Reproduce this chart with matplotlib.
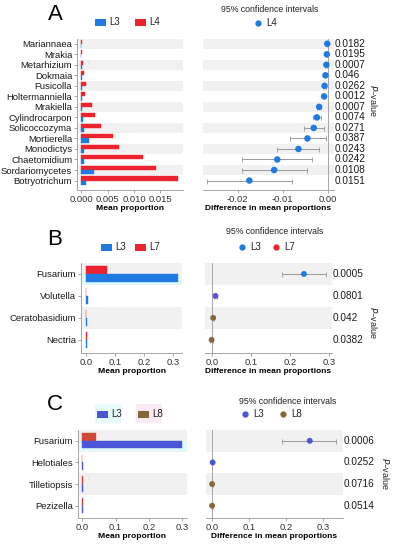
import numpy as np
import matplotlib
matplotlib.use('agg')
import matplotlib.pyplot as plt
from matplotlib.patches import Rectangle

plt.rcParams['font.family'] = ['Liberation Sans', 'DejaVu Sans']
plt.rcParams['axes.linewidth'] = 0.6

# ---- data ----
a_taxa = ['Mariannaea', 'Mrakia', 'Metarhizium', 'Dokmaia', 'Fusicolla', 'Holtermanniella',
          'Mrakiella', 'Cylindrocarpon', 'Solicoccozyma', 'Mortierella', 'Monodictys',
          'Chaetomidium', 'Sordariomycetes', 'Botryotrichum']
a_l3 = [0.00002, 0.00003, 0.0001, 0.0002, 0.0002, 0.0001, 0.0001, 0.0003, 0.0006, 0.0015,
        0.0006, 0.0005, 0.0024, 0.0009]
a_l4 = [0.0001, 0.0002, 0.0004, 0.0006, 0.0009, 0.0008, 0.0021, 0.0027, 0.0037, 0.0061,
        0.0072, 0.0117, 0.0142, 0.0184]
a_diff = [-0.0001, -0.0002, -0.0003, -0.0005, -0.0007, -0.0008, -0.0019, -0.0024, -0.0031,
          -0.0045, -0.0065, -0.0112, -0.0119, -0.0174]
a_lo = [-0.0002, -0.0003, -0.0005, -0.0007, -0.0010, -0.0011, -0.0024, -0.0033, -0.0053,
        -0.0084, -0.0113, -0.0190, -0.0190, -0.0269]
a_hi = [0.0, -0.0001, -0.0001, -0.0003, -0.0004, -0.0005, -0.0014, -0.0014, -0.0008,
        -0.0004, -0.0019, -0.0034, -0.0047, -0.0080]
a_p = ['0.0182', '0.0195', '0.0007', '0.046', '0.0262', '0.0012', '0.0007', '0.0074',
       '0.0271', '0.0387', '0.0243', '0.0242', '0.0108', '0.0151']

b_taxa = ['Fusarium', 'Volutella', 'Ceratobasidium', 'Nectria']
b_l3 = [0.315, 0.007, 0.002, 0.003]
b_l7 = [0.074, 0.0005, 0.001, 0.004]
b_diff = [0.235, 0.008, 0.002, -0.002]
b_lo = [0.179, 0.005, 0.0, -0.005]
b_hi = [0.291, 0.011, 0.004, 0.001]
b_p = ['0.0005', '0.0801', '0.042', '0.0382']

c_taxa = ['Fusarium', 'Helotiales', 'Tilletiopsis', 'Pezizella']
c_l3 = [0.298, 0.001, 0.0005, 0.0005]
c_l8 = [0.041, 0.0002, 0.001, 0.001]
c_diff = [0.264, 0.001, -0.0005, -0.0005]
c_lo = [0.190, 0.0, -0.002, -0.002]
c_hi = [0.335, 0.002, 0.001, 0.001]
c_p = ['0.0006', '0.0252', '0.0716', '0.0514']

W, H = 394, 550
fig = plt.figure(figsize=(W / 100, H / 100), dpi=100)


def px_axes(x0, x1, y0, y1):
    return fig.add_axes([x0 / W, 1 - y1 / H, (x1 - x0) / W, (y1 - y0) / H])


def ftext(x, y, s, **kw):
    fig.text(x / W, 1 - y / H, s, **kw)


def bands(ax, n):
    for i in range(0, n, 2):
        ax.axhspan(i - 0.5, i + 0.5, color='#f1f1f1', zorder=0, lw=0)


def bar_panel(ax, taxa, g1, g2, c1, c2, h, xlim, xticks, fmt, ybot):
    n = len(taxa)
    y = np.arange(n)
    bands(ax, n)
    ax.barh(y - h / 2, g2, height=h, color=c2, edgecolor=c2, lw=0.3, zorder=2)
    ax.barh(y + h / 2, g1, height=h, color=c1, edgecolor=c1, lw=0.3, zorder=2)
    ax.set_ylim(ybot, -0.5)
    ax.set_xlim(*xlim)
    ax.set_yticks(y)
    ax.set_yticklabels(taxa, fontsize=6.8, color='#1a1a1a')
    ax.set_xticks(xticks)
    ax.set_xticklabels([fmt.format(v) for v in xticks], fontsize=6.8, color='#333')
    ax.tick_params(axis='y', length=2, width=0.5, color='#888', pad=1.5)
    ax.tick_params(axis='x', length=2, width=0.5, color='#888', pad=1.5)
    for s in ['top', 'right']:
        ax.spines[s].set_visible(False)
    for s in ['left', 'bottom']:
        ax.spines[s].set_color('#999')
    ax.set_xlabel('Mean proportion', fontsize=6.1, fontweight='bold', labelpad=1)


def ci_panel(ax, diff, lo, hi, pvals, mcolors, ms, xlim, xticks, fmt, ybot):
    n = len(diff)
    y = np.arange(n)
    bands(ax, n)
    ax.axvline(0, color='#999', lw=0.6, zorder=1)
    d = np.array(diff)
    err = [d - np.array(lo), np.array(hi) - d]
    ax.errorbar(d, y, xerr=err, fmt='none', ecolor='#999', elinewidth=0.7,
                capsize=1.8, capthick=0.6, zorder=2)
    ax.scatter(d, y, s=ms, c=mcolors, zorder=3, lw=0)
    ax.set_ylim(ybot, -0.5)
    ax.set_xlim(*xlim)
    ax.set_yticks([])
    ax.set_xticks(xticks)
    ax.set_xticklabels([fmt.format(v) for v in xticks], fontsize=6.8, color='#333')
    ax.tick_params(axis='x', length=2, width=0.5, color='#888', pad=1.5)
    for s in ['top', 'right', 'left']:
        ax.spines[s].set_visible(False)
    ax.spines['bottom'].set_color('#999')
    ax.set_xlabel('Difference in mean proportions', fontsize=6.0, fontweight='bold', labelpad=1)
    for i, p in enumerate(pvals):
        ax.text(1.005, i, p, transform=ax.get_yaxis_transform(), fontsize=7.2,
                va='center', ha='left', color='#1a1a1a')


def square_legend(x, y, color, label, bg=None):
    if bg is not None:
        fig.patches.append(Rectangle(((x - 2) / W, 1 - (y + 9) / H), 26 / W, 19 / H,
                                     transform=fig.transFigure, color=bg, lw=0, zorder=0))
    fig.patches.append(Rectangle((x / W, 1 - (y + 3.5) / H), 11 / W, 7 / H,
                                 transform=fig.transFigure, color=color, lw=0))
    ftext(x + 14, y, label, fontsize=7, va='center', color='#222')


def dot_legend(x, y, color, label):
    fig.lines.append(plt.Line2D([x / W], [1 - y / H], marker='o', ms=3.5, color=color,
                                lw=0, transform=fig.transFigure))
    ftext(x + 8, y, label, fontsize=7, va='center', color='#222')


# colours
blue_a, red_a = '#1f7be2', '#ee2330'
blue_c, brown_c = '#4b56d6', '#85683a'
red_c = '#d2473a'

# ---- panel A ----
ax = px_axes(77, 183, 38.5, 190)
bar_panel(ax, a_taxa, a_l3, a_l4, blue_a, red_a, 0.4, (-0.0008, 0.0193),
          [0, 0.005, 0.010, 0.015], '{:.3f}', 13.9)
ax = px_axes(203, 334, 38.5, 190)
ci_panel(ax, a_diff, a_lo, a_hi, a_p, [blue_a] * 14, 22, (-0.0277, 0.0014),
         [-0.02, -0.01, 0.0], '{:.2f}', 13.9)
ftext(55, 15, 'A', fontsize=16, ha='center', va='center')
square_legend(95, 22, blue_a, 'L3')
square_legend(135, 22, red_a, 'L4')
ftext(270, 9, '95% confidence intervals', fontsize=6.3, ha='center', va='center', color='#222')
dot_legend(258, 23, blue_a, 'L4')
ftext(373, 101, '$P$–value', fontsize=6.5, rotation=270, ha='center', va='center', color='#222')

# ---- panel B ----
ax = px_axes(81, 182, 263, 353)
bar_panel(ax, b_taxa, b_l3, b_l7, blue_a, red_a, 0.35, (-0.017, 0.33),
          [0, 0.1, 0.2, 0.3], '{:.1f}', 3.6)
ax.axhspan(0.25, 0.5, color='#e0fbfb', zorder=1, lw=0)
ax = px_axes(205, 332, 263, 353)
ci_panel(ax, b_diff, b_lo, b_hi, b_p, [blue_a, '#5a55d2', brown_c, brown_c], 18,
         (-0.019, 0.307), [0, 0.1, 0.2, 0.3], '{:.1f}', 3.6)
ftext(55, 240, 'B', fontsize=16, ha='center', va='center')
square_legend(101, 247, blue_a, 'L3')
square_legend(135, 247, red_a, 'L7')
ftext(275, 232, '95% confidence intervals', fontsize=6.3, ha='center', va='center', color='#222')
dot_legend(242, 247, blue_a, 'L3')
dot_legend(276, 247, red_a, 'L7')
ftext(373, 323, '$P$–value', fontsize=6.5, rotation=270, ha='center', va='center', color='#222')

# ---- panel C ----
ax = px_axes(78, 187, 430, 518)
bar_panel(ax, c_taxa, c_l3, c_l8, blue_c, red_c, 0.35, (-0.013, 0.314),
          [0, 0.1, 0.2, 0.3], '{:.1f}', 3.57)
ax.axhspan(0.0, 0.45, color='#e0fbfb', zorder=1, lw=0)
ax = px_axes(206, 343, 430, 518)
ci_panel(ax, c_diff, c_lo, c_hi, c_p, [blue_c, blue_c, brown_c, brown_c], 18,
         (-0.017, 0.354), [0, 0.1, 0.2, 0.3], '{:.1f}', 3.57)
ftext(55, 405, 'C', fontsize=16, ha='center', va='center')
square_legend(97, 414, blue_c, 'L3', bg='#e6fcfc')
square_legend(138, 414, brown_c, 'L8', bg='#fdeaf4')
ftext(288, 401, '95% confidence intervals', fontsize=6.3, ha='center', va='center', color='#222')
dot_legend(245, 414, blue_c, 'L3')
dot_legend(283, 414, brown_c, 'L8')
ftext(385, 474, '$P$–value', fontsize=6.5, rotation=270, ha='center', va='center', color='#222')

fig.savefig('out.png', dpi=100, facecolor='white')
